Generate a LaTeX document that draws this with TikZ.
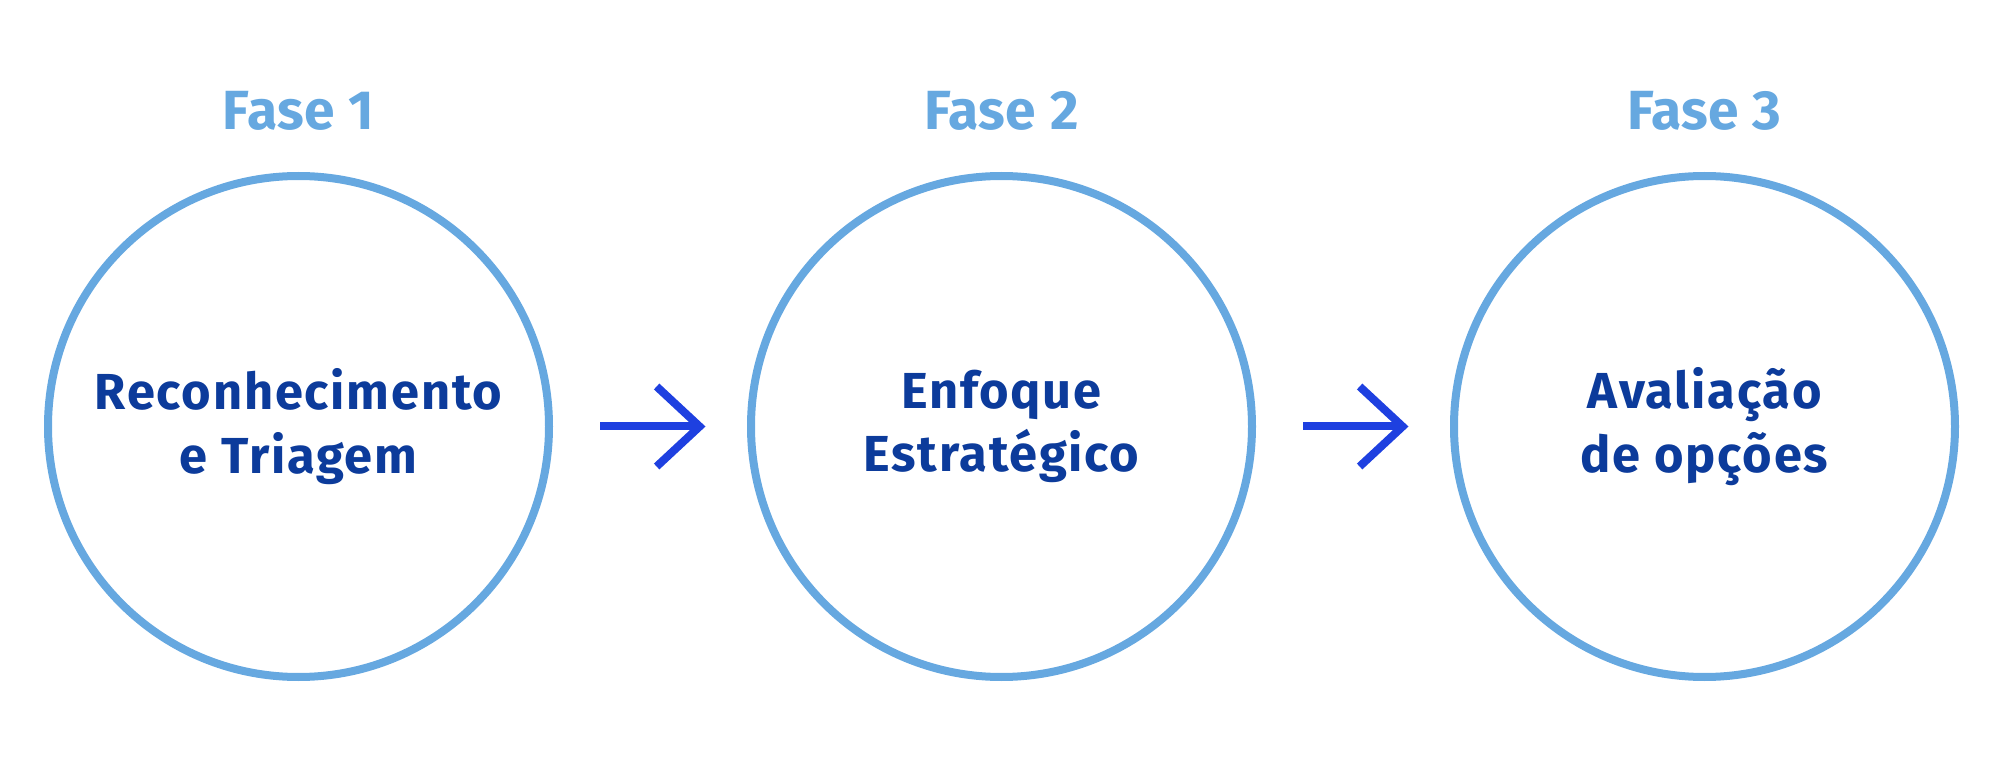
\documentclass[tikz,border=0pt]{standalone}
\usepackage{fontspec}
\setmainfont{Fira Sans}[BoldFont={Fira Sans Bold}]
\usepackage{tikz}
\usetikzlibrary{arrows.meta}

\definecolor{ringblue}{HTML}{66A8E0}
\definecolor{textblue}{HTML}{0C3B9B}
\definecolor{arrowblue}{HTML}{1E40E0}

\begin{document}
\begin{tikzpicture}[
    phase/.style={circle, draw=ringblue, line width=0.08cm, minimum size=5.01cm,
      inner sep=0pt, align=center, text=textblue,
      font=\bfseries\fontsize{14.4}{18}\selectfont\addfontfeatures{LetterSpace=3.5}},
    tag/.style={anchor=base, text=ringblue,
      font=\bfseries\fontsize{15.7}{18}\selectfont\addfontfeatures{LetterSpace=1}},
    flow/.style={draw=arrowblue, line width=0.08cm, shorten <=0.47cm, shorten >=0.415cm,
      -{Straight Barb[length=0.43cm, width=0.8cm, sharp]}}
  ]
  \useasboundingbox (0,0) rectangle (20.02,7.73);
  % the three phases
  \node[phase] (recon) at (2.985,3.465) {Reconhecimento\\e Triagem};
  \node[phase] (enfoque) at (10.015,3.465) {Enfoque\\Estratégico};
  \node[phase] (aval) at (17.045,3.465) {Avaliação\\de opções};
  % headings
  \node[tag] (fase1) at (2.985,6.43) {Fase 1};
  \node[tag] (fase2) at (10.015,6.43) {Fase 2};
  \node[tag] (fase3) at (17.045,6.43) {Fase 3};
  % arrows between phases
  \draw[flow] (recon) -- (enfoque);
  \draw[flow] (enfoque) -- (aval);
\end{tikzpicture}
\end{document}
